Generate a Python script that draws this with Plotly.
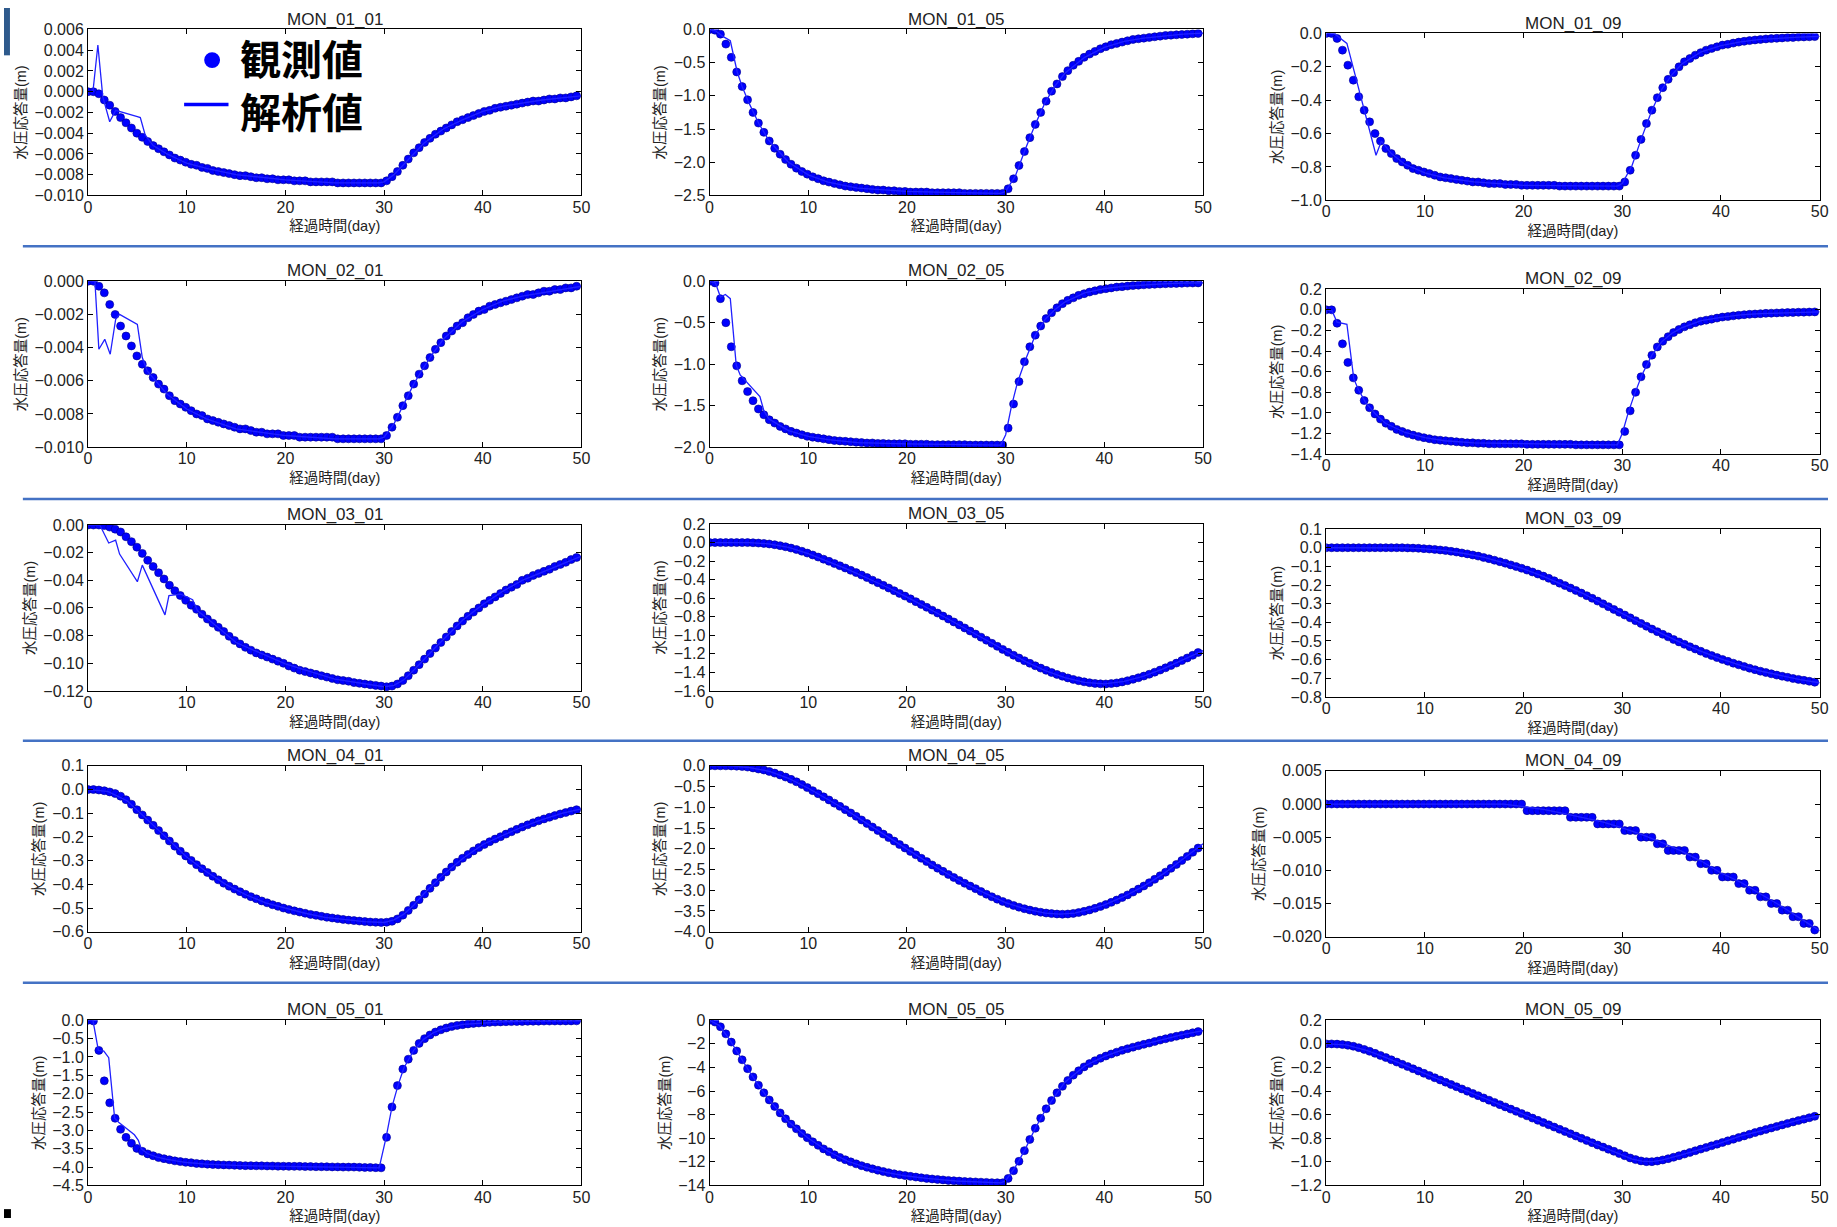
import plotly.graph_objects as go

# ---------------------------------------------------------------------------
# Observation time grid (days) shared by every monitoring well
# ---------------------------------------------------------------------------
DAYS = [0.0, 0.55, 1.1, 1.65, 2.2, 2.75, 3.3, 3.85, 4.4, 4.95,
        5.5, 6.05, 6.6, 7.15, 7.7, 8.25, 8.8, 9.35, 9.9, 10.45,
        11.0, 11.55, 12.1, 12.65, 13.2, 13.75, 14.3, 14.85, 15.4, 15.95,
        16.5, 17.05, 17.6, 18.15, 18.7, 19.25, 19.8, 20.35, 20.9, 21.45,
        22.0, 22.55, 23.1, 23.65, 24.2, 24.75, 25.3, 25.85, 26.4, 26.95,
        27.5, 28.05, 28.6, 29.15, 29.7, 30.25, 30.8, 31.35, 31.9, 32.45,
        33.0, 33.55, 34.1, 34.65, 35.2, 35.75, 36.3, 36.85, 37.4, 37.95,
        38.5, 39.05, 39.6, 40.15, 40.7, 41.25, 41.8, 42.35, 42.9, 43.45,
        44.0, 44.55, 45.1, 45.65, 46.2, 46.75, 47.3, 47.85, 48.4, 48.95,
        49.5]

STATIONS = ["MON_01_01", "MON_01_05", "MON_01_09",
            "MON_02_01", "MON_02_05", "MON_02_09",
            "MON_03_01", "MON_03_05", "MON_03_09",
            "MON_04_01", "MON_04_05", "MON_04_09",
            "MON_05_01", "MON_05_05", "MON_05_09"]

# ---------------------------------------------------------------------------
# Observed water-pressure response (m)  -- 観測値
# ---------------------------------------------------------------------------
OBS_MON_01_01 = [0.0, 0.0, -0.0002, -0.0008, -0.0013, -0.0019, -0.0025, -0.0030, -0.0035, -0.0040,
                 -0.0044, -0.0048, -0.0052, -0.0055, -0.0058, -0.0061, -0.0064, -0.0066, -0.0068, -0.0070,
                 -0.0071, -0.0073, -0.0074, -0.0076, -0.0077, -0.0078, -0.0079, -0.0080, -0.0081, -0.0081,
                 -0.0082, -0.0083, -0.0083, -0.0084, -0.0084, -0.0085, -0.0085, -0.0085, -0.0086, -0.0086,
                 -0.0086, -0.0087, -0.0087, -0.0087, -0.0087, -0.0087, -0.0088, -0.0088, -0.0088, -0.0088,
                 -0.0088, -0.0088, -0.0088, -0.0088, -0.0088, -0.0086, -0.0082, -0.0077, -0.0071, -0.0065,
                 -0.0059, -0.0054, -0.0049, -0.0045, -0.0041, -0.0038, -0.0035, -0.0032, -0.0029, -0.0027,
                 -0.0025, -0.0023, -0.0021, -0.0019, -0.0018, -0.0016, -0.0015, -0.0014, -0.0013, -0.0012,
                 -0.0011, -0.0010, -0.0009, -0.0009, -0.0008, -0.0007, -0.0007, -0.0006, -0.0006, -0.0005,
                 -0.0004]
OBS_MON_01_05 = [0.0, -0.01, -0.07, -0.22, -0.42, -0.64, -0.86, -1.06, -1.25, -1.41,
                 -1.55, -1.68, -1.79, -1.88, -1.96, -2.03, -2.09, -2.14, -2.18, -2.22,
                 -2.25, -2.28, -2.30, -2.32, -2.34, -2.36, -2.37, -2.38, -2.39, -2.40,
                 -2.41, -2.42, -2.42, -2.43, -2.43, -2.44, -2.44, -2.45, -2.45, -2.45,
                 -2.45, -2.46, -2.46, -2.46, -2.46, -2.46, -2.46, -2.47, -2.47, -2.47,
                 -2.47, -2.47, -2.47, -2.47, -2.47, -2.40, -2.25, -2.05, -1.84, -1.63,
                 -1.43, -1.25, -1.08, -0.93, -0.82, -0.71, -0.62, -0.54, -0.48, -0.42,
                 -0.37, -0.33, -0.29, -0.26, -0.23, -0.21, -0.19, -0.17, -0.15, -0.14,
                 -0.13, -0.12, -0.11, -0.10, -0.09, -0.085, -0.08, -0.075, -0.07, -0.065,
                 -0.06]
OBS_MON_01_09 = [0.0, 0.0, -0.03, -0.10, -0.19, -0.28, -0.38, -0.46, -0.53, -0.60,
                 -0.645, -0.69, -0.72, -0.75, -0.77, -0.79, -0.81, -0.82, -0.83, -0.84,
                 -0.85, -0.86, -0.865, -0.87, -0.875, -0.88, -0.885, -0.89, -0.89, -0.895,
                 -0.90, -0.90, -0.90, -0.905, -0.905, -0.905, -0.91, -0.91, -0.91, -0.91,
                 -0.91, -0.91, -0.91, -0.915, -0.915, -0.915, -0.915, -0.915, -0.915, -0.915,
                 -0.915, -0.915, -0.915, -0.915, -0.915, -0.89, -0.82, -0.73, -0.635, -0.54,
                 -0.46, -0.385, -0.325, -0.275, -0.235, -0.20, -0.17, -0.15, -0.13, -0.115,
                 -0.10, -0.09, -0.08, -0.07, -0.065, -0.058, -0.052, -0.047, -0.043, -0.039,
                 -0.036, -0.033, -0.031, -0.029, -0.027, -0.025, -0.024, -0.022, -0.021, -0.020,
                 -0.019]
OBS_MON_02_01 = [0.0, 0.0, -0.0003, -0.0007, -0.0014, -0.0020, -0.0027, -0.0033, -0.0039, -0.0045,
                 -0.0050, -0.0054, -0.0058, -0.0062, -0.0065, -0.0069, -0.0072, -0.0074, -0.0076, -0.0078,
                 -0.0080, -0.0081, -0.0083, -0.0084, -0.0085, -0.0086, -0.0087, -0.0088, -0.0089, -0.0089,
                 -0.0090, -0.0091, -0.0091, -0.0092, -0.0092, -0.0092, -0.0093, -0.0093, -0.0093, -0.0094,
                 -0.0094, -0.0094, -0.0094, -0.0094, -0.0094, -0.0094, -0.0095, -0.0095, -0.0095, -0.0095,
                 -0.0095, -0.0095, -0.0095, -0.0095, -0.0095, -0.0093, -0.0088, -0.0082, -0.0075, -0.0069,
                 -0.0062, -0.0056, -0.0051, -0.0046, -0.0041, -0.0037, -0.0033, -0.0030, -0.0027, -0.0025,
                 -0.0022, -0.0020, -0.0018, -0.0017, -0.0015, -0.0014, -0.0013, -0.0012, -0.0011, -0.0010,
                 -0.0009, -0.0008, -0.0008, -0.0007, -0.0006, -0.0006, -0.0005, -0.0005, -0.0004, -0.0004,
                 -0.0003]
OBS_MON_02_05 = [0.0, -0.02, -0.21, -0.50, -0.79, -1.02, -1.20, -1.33, -1.44, -1.54,
                 -1.61, -1.67, -1.71, -1.75, -1.78, -1.81, -1.83, -1.85, -1.87, -1.88,
                 -1.89, -1.90, -1.91, -1.92, -1.925, -1.93, -1.935, -1.94, -1.945, -1.95,
                 -1.95, -1.955, -1.955, -1.96, -1.96, -1.96, -1.96, -1.965, -1.965, -1.965,
                 -1.965, -1.97, -1.97, -1.97, -1.97, -1.97, -1.97, -1.97, -1.975, -1.975,
                 -1.975, -1.975, -1.975, -1.975, -1.975, -1.77, -1.48, -1.21, -0.97, -0.79,
                 -0.65, -0.54, -0.45, -0.38, -0.32, -0.27, -0.23, -0.20, -0.17, -0.15,
                 -0.13, -0.115, -0.10, -0.09, -0.08, -0.07, -0.065, -0.058, -0.052, -0.047,
                 -0.043, -0.039, -0.036, -0.033, -0.030, -0.028, -0.026, -0.024, -0.022, -0.021,
                 -0.020]
OBS_MON_02_09 = [0.0, 0.0, -0.13, -0.33, -0.51, -0.66, -0.78, -0.88, -0.95, -1.01,
                 -1.06, -1.10, -1.13, -1.16, -1.18, -1.20, -1.215, -1.23, -1.24, -1.25,
                 -1.26, -1.265, -1.27, -1.275, -1.28, -1.285, -1.29, -1.29, -1.295, -1.295,
                 -1.30, -1.30, -1.30, -1.30, -1.30, -1.30, -1.30, -1.305, -1.305, -1.305,
                 -1.305, -1.305, -1.305, -1.305, -1.305, -1.305, -1.31, -1.31, -1.31, -1.31,
                 -1.31, -1.31, -1.31, -1.31, -1.31, -1.18, -0.98, -0.80, -0.65, -0.53,
                 -0.44, -0.36, -0.305, -0.26, -0.22, -0.19, -0.165, -0.145, -0.125, -0.11,
                 -0.10, -0.09, -0.08, -0.07, -0.065, -0.058, -0.052, -0.047, -0.043, -0.040,
                 -0.037, -0.034, -0.032, -0.030, -0.028, -0.026, -0.025, -0.023, -0.022, -0.021,
                 -0.020]
OBS_MON_03_01 = [0.0, 0.0, 0.0, -0.0004, -0.0015, -0.003, -0.005, -0.0085, -0.012, -0.016,
                 -0.0205, -0.0255, -0.030, -0.0345, -0.039, -0.0435, -0.0475, -0.051, -0.0545, -0.058,
                 -0.061, -0.0645, -0.068, -0.071, -0.074, -0.077, -0.0805, -0.0835, -0.086, -0.0885,
                 -0.0905, -0.0925, -0.094, -0.0955, -0.097, -0.0985, -0.100, -0.102, -0.1035, -0.105,
                 -0.106, -0.107, -0.108, -0.109, -0.110, -0.111, -0.112, -0.1125, -0.113, -0.114,
                 -0.1145, -0.115, -0.1155, -0.116, -0.1165, -0.117, -0.1165, -0.115, -0.1125, -0.109,
                 -0.105, -0.101, -0.097, -0.093, -0.089, -0.085, -0.081, -0.077, -0.073, -0.0695,
                 -0.066, -0.063, -0.060, -0.057, -0.0545, -0.052, -0.0495, -0.047, -0.045, -0.043,
                 -0.040, -0.0385, -0.0365, -0.035, -0.0335, -0.032, -0.030, -0.0285, -0.027, -0.025,
                 -0.0235]
OBS_MON_03_05 = [0.0, 0.0, 0.0, 0.0, 0.0, 0.0, 0.0, 0.0, -0.002, -0.005,
                 -0.009, -0.015, -0.023, -0.033, -0.045, -0.059, -0.075, -0.093, -0.113, -0.134,
                 -0.156, -0.179, -0.202, -0.226, -0.25, -0.274, -0.299, -0.324, -0.35, -0.377,
                 -0.405, -0.433, -0.461, -0.49, -0.519, -0.548, -0.577, -0.607, -0.637, -0.667,
                 -0.698, -0.729, -0.76, -0.792, -0.824, -0.856, -0.888, -0.921, -0.954, -0.987,
                 -1.02, -1.053, -1.086, -1.119, -1.152, -1.184, -1.215, -1.245, -1.274, -1.302,
                 -1.329, -1.354, -1.378, -1.401, -1.422, -1.442, -1.46, -1.476, -1.49, -1.502,
                 -1.512, -1.519, -1.524, -1.525, -1.521, -1.514, -1.503, -1.49, -1.475, -1.458,
                 -1.44, -1.42, -1.398, -1.375, -1.351, -1.326, -1.3, -1.273, -1.245, -1.216,
                 -1.186]
OBS_MON_03_09 = [0.0, 0.0, 0.0, 0.0, 0.0, 0.0, 0.0, 0.0, 0.0, 0.0,
                 0.0, 0.0, 0.0, 0.0, 0.0, -0.001, -0.002, -0.003, -0.005, -0.007,
                 -0.009, -0.012, -0.015, -0.019, -0.023, -0.028, -0.033, -0.039, -0.045, -0.052,
                 -0.059, -0.067, -0.075, -0.083, -0.092, -0.101, -0.11, -0.12, -0.13, -0.141,
                 -0.152, -0.164, -0.177, -0.19, -0.203, -0.216, -0.229, -0.243, -0.257, -0.271,
                 -0.286, -0.301, -0.316, -0.331, -0.346, -0.361, -0.376, -0.391, -0.406, -0.421,
                 -0.436, -0.45, -0.464, -0.478, -0.492, -0.505, -0.518, -0.531, -0.543, -0.555,
                 -0.567, -0.578, -0.589, -0.599, -0.609, -0.619, -0.628, -0.637, -0.646, -0.654,
                 -0.662, -0.669, -0.676, -0.683, -0.689, -0.695, -0.701, -0.706, -0.711, -0.716,
                 -0.721]
OBS_MON_04_01 = [0.0, 0.0, -0.002, -0.005, -0.01, -0.017, -0.028, -0.043, -0.062, -0.085,
                 -0.107, -0.129, -0.151, -0.173, -0.195, -0.217, -0.239, -0.26, -0.28, -0.299,
                 -0.317, -0.334, -0.35, -0.366, -0.381, -0.395, -0.408, -0.42, -0.431, -0.442,
                 -0.452, -0.461, -0.47, -0.478, -0.486, -0.493, -0.5, -0.506, -0.512, -0.517,
                 -0.522, -0.527, -0.531, -0.535, -0.539, -0.542, -0.545, -0.548, -0.551, -0.553,
                 -0.555, -0.557, -0.559, -0.56, -0.561, -0.56, -0.556, -0.546, -0.53, -0.51,
                 -0.488, -0.465, -0.441, -0.417, -0.393, -0.37, -0.348, -0.327, -0.307, -0.29,
                 -0.274, -0.259, -0.245, -0.232, -0.22, -0.209, -0.199, -0.188, -0.178, -0.168,
                 -0.158, -0.149, -0.14, -0.132, -0.124, -0.117, -0.11, -0.103, -0.097, -0.091,
                 -0.085]
OBS_MON_04_05 = [0.0, 0.0, 0.0, 0.0, -0.002, -0.007, -0.016, -0.03, -0.05, -0.076,
                 -0.1, -0.135, -0.175, -0.22, -0.27, -0.325, -0.385, -0.452, -0.525, -0.598,
                 -0.672, -0.747, -0.822, -0.899, -0.977, -1.056, -1.136, -1.217, -1.305, -1.39,
                 -1.475, -1.56, -1.645, -1.73, -1.814, -1.898, -1.981, -2.064, -2.146, -2.228,
                 -2.309, -2.389, -2.467, -2.544, -2.619, -2.692, -2.763, -2.832, -2.898, -2.961,
                 -3.03, -3.095, -3.157, -3.215, -3.27, -3.32, -3.366, -3.408, -3.445, -3.478,
                 -3.507, -3.53, -3.549, -3.563, -3.573, -3.578, -3.572, -3.558, -3.537, -3.509,
                 -3.475, -3.436, -3.392, -3.344, -3.292, -3.236, -3.176, -3.112, -3.044, -2.972,
                 -2.897, -2.818, -2.736, -2.651, -2.563, -2.472, -2.378, -2.282, -2.184, -2.084,
                 -1.982]
OBS_MON_04_09 = [0.0, 0.0, 0.0, 0.0, 0.0, 0.0, 0.0, 0.0, 0.0, 0.0,
                 0.0, 0.0, 0.0, 0.0, 0.0, 0.0, 0.0, 0.0, 0.0, 0.0,
                 0.0, 0.0, 0.0, 0.0, 0.0, 0.0, 0.0, 0.0, 0.0, 0.0,
                 0.0, 0.0, 0.0, 0.0, 0.0, 0.0, 0.0, -0.001, -0.001, -0.001,
                 -0.001, -0.001, -0.001, -0.001, -0.001, -0.002, -0.002, -0.002, -0.002, -0.002,
                 -0.003, -0.003, -0.003, -0.003, -0.003, -0.004, -0.004, -0.004, -0.005, -0.005,
                 -0.005, -0.006, -0.006, -0.007, -0.007, -0.007, -0.007, -0.008, -0.008, -0.009,
                 -0.009, -0.010, -0.010, -0.011, -0.011, -0.011, -0.012, -0.012, -0.013, -0.013,
                 -0.014, -0.014, -0.015, -0.015, -0.016, -0.016, -0.017, -0.017, -0.018, -0.018,
                 -0.019]
OBS_MON_05_01 = [0.0, -0.02, -0.82, -1.65, -2.25, -2.67, -2.97, -3.19, -3.35, -3.49,
                 -3.57, -3.64, -3.69, -3.74, -3.77, -3.80, -3.83, -3.85, -3.87, -3.88,
                 -3.90, -3.91, -3.92, -3.93, -3.935, -3.94, -3.945, -3.95, -3.955, -3.96,
                 -3.96, -3.965, -3.965, -3.97, -3.97, -3.975, -3.975, -3.98, -3.98, -3.98,
                 -3.985, -3.985, -3.99, -3.99, -3.99, -3.995, -3.995, -4.0, -4.0, -4.0,
                 -4.005, -4.01, -4.01, -4.015, -4.02, -3.19, -2.36, -1.78, -1.33, -1.06,
                 -0.82, -0.63, -0.5, -0.4, -0.32, -0.26, -0.21, -0.17, -0.14, -0.12,
                 -0.10, -0.085, -0.075, -0.065, -0.057, -0.05, -0.045, -0.04, -0.036, -0.033,
                 -0.03, -0.028, -0.026, -0.024, -0.022, -0.021, -0.02, -0.019, -0.018, -0.017,
                 -0.016]
OBS_MON_05_05 = [0.0, -0.15, -0.55, -1.15, -1.85, -2.6, -3.35, -4.1, -4.8, -5.5,
                 -6.15, -6.75, -7.3, -7.85, -8.35, -8.8, -9.2, -9.6, -9.95, -10.3,
                 -10.6, -10.9, -11.15, -11.4, -11.62, -11.82, -12.0, -12.17, -12.32, -12.46,
                 -12.59, -12.71, -12.82, -12.92, -13.01, -13.09, -13.16, -13.23, -13.29, -13.35,
                 -13.4, -13.45, -13.49, -13.53, -13.57, -13.6, -13.63, -13.66, -13.68, -13.7,
                 -13.72, -13.74, -13.76, -13.77, -13.78, -13.4, -12.75, -11.95, -11.05, -10.1,
                 -9.15, -8.3, -7.5, -6.8, -6.15, -5.6, -5.1, -4.65, -4.28, -3.95,
                 -3.67, -3.43, -3.22, -3.03, -2.86, -2.7, -2.55, -2.41, -2.28, -2.16,
                 -2.04, -1.93, -1.8, -1.68, -1.57, -1.46, -1.36, -1.26, -1.16, -1.06,
                 -0.96]
OBS_MON_05_09 = [0.0, 0.0, -0.002, -0.006, -0.012, -0.02, -0.032, -0.047, -0.063, -0.08,
                 -0.098, -0.116, -0.135, -0.154, -0.173, -0.192, -0.211, -0.23, -0.249, -0.268,
                 -0.287, -0.306, -0.325, -0.344, -0.363, -0.382, -0.401, -0.42, -0.439, -0.458,
                 -0.477, -0.496, -0.515, -0.534, -0.553, -0.572, -0.591, -0.61, -0.629, -0.648,
                 -0.667, -0.686, -0.705, -0.724, -0.743, -0.762, -0.781, -0.8, -0.819, -0.838,
                 -0.857, -0.875, -0.893, -0.91, -0.93, -0.948, -0.967, -0.981, -0.992, -0.998,
                 -0.998, -0.993, -0.984, -0.973, -0.961, -0.948, -0.934, -0.92, -0.906, -0.892,
                 -0.878, -0.864, -0.85, -0.836, -0.822, -0.808, -0.794, -0.78, -0.766, -0.752,
                 -0.739, -0.726, -0.713, -0.7, -0.687, -0.674, -0.662, -0.65, -0.638, -0.626,
                 -0.614]

# ---------------------------------------------------------------------------
# Simulated response (m)  -- 解析値 : output times and values
# ---------------------------------------------------------------------------
ANA_T_MON_01_01 = [0, 0.5, 1.0, 1.5, 2.2, 2.8, 5.0, 5.3, 5.8, 6.6, 8, 10, 12, 15, 20, 25, 29.5, 30,
                   31, 32, 33, 34, 35, 36, 38, 40, 42, 44, 46, 48, 50]
ANA_V_MON_01_01 = [0, 0, 0.0045, -0.0005, -0.0029, -0.0018, -0.0024, -0.0025, -0.0042, -0.0052,
                   -0.006, -0.0069, -0.0074, -0.008, -0.0085, -0.0088, -0.0088, -0.0087, -0.008, -0.007,
                   -0.0059, -0.005, -0.0043, -0.0036, -0.0027, -0.0019, -0.0014, -0.0011, -0.0008,
                   -0.0006, -0.0004]
ANA_T_MON_01_05 = [0, 0.6, 1.3, 2.1, 2.8, 3.3, 4, 5, 6, 8, 10, 12, 15, 20, 25, 29.5, 30, 31, 32, 33,
                   34, 35, 36, 38, 40, 42, 44, 46, 48, 50]
ANA_V_MON_01_05 = [0, -0.02, -0.1, -0.17, -0.64, -0.86, -1.11, -1.42, -1.67, -2.0, -2.19, -2.30,
                   -2.39, -2.44, -2.46, -2.47, -2.44, -2.2, -1.8, -1.43, -1.1, -0.85, -0.66, -0.42,
                   -0.27, -0.18, -0.13, -0.095, -0.07, -0.055]
ANA_T_MON_01_09 = [0, 0.8, 2.1, 5.05, 5.6, 6.6, 8, 10, 12, 15, 20, 25, 29.5, 30, 31, 32, 33, 34, 35,
                   36, 38, 40, 42, 44, 46, 48, 50]
ANA_V_MON_01_09 = [0, 0, -0.06, -0.73, -0.645, -0.72, -0.785, -0.835, -0.865, -0.89, -0.91, -0.915,
                   -0.915, -0.9, -0.79, -0.62, -0.46, -0.335, -0.25, -0.185, -0.11, -0.073, -0.05,
                   -0.036, -0.028, -0.022, -0.018]
ANA_T_MON_02_01 = [0, 0.7, 1.1, 1.7, 2.25, 2.8, 3.2, 5.0, 5.5, 6, 8, 10, 12, 15, 20, 25, 29.5, 30,
                   31, 32, 33, 34, 35, 36, 38, 40, 42, 44, 46, 48, 50]
ANA_V_MON_02_01 = [0, 0, -0.0041, -0.0035, -0.0044, -0.0023, -0.002, -0.0026, -0.0046, -0.0054,
                   -0.0068, -0.0077, -0.0083, -0.0089, -0.0093, -0.0095, -0.0095, -0.0094, -0.0086,
                   -0.0074, -0.0062, -0.0052, -0.0043, -0.0035, -0.0024, -0.0017, -0.0012, -0.0009,
                   -0.0007, -0.0005, -0.0003]
ANA_T_MON_02_05 = [0, 0.6, 1.1, 1.6, 2.1, 2.7, 3.1, 4.7, 5.1, 5.5, 6, 8, 10, 12, 15, 20, 25, 29.5,
                   30, 30.6, 31.2, 32, 33, 34, 35, 36, 38, 40, 42, 44, 46, 48, 50]
ANA_V_MON_02_05 = [0, -0.02, -0.19, -0.16, -0.21, -1.01, -1.13, -1.33, -1.39, -1.56, -1.66, -1.8,
                   -1.87, -1.91, -1.945, -1.96, -1.97, -1.975, -1.85, -1.5, -1.22, -0.95, -0.65,
                   -0.46, -0.34, -0.25, -0.14, -0.09, -0.06, -0.043, -0.031, -0.023, -0.019]
ANA_T_MON_02_09 = [0, 0.6, 1.1, 2.1, 2.8, 3.3, 4, 5, 6, 8, 10, 12, 15, 20, 25, 29.5, 30, 30.6, 31.2,
                   32, 33, 34, 35, 36, 38, 40, 42, 44, 46, 48, 50]
ANA_V_MON_02_09 = [0, -0.01, -0.12, -0.14, -0.67, -0.78, -0.9, -1.01, -1.1, -1.19, -1.24, -1.27,
                   -1.29, -1.3, -1.305, -1.31, -1.2, -1.0, -0.83, -0.63, -0.44, -0.31, -0.23, -0.175,
                   -0.105, -0.072, -0.049, -0.037, -0.029, -0.023, -0.019]
ANA_T_MON_03_01 = [0, 1.2, 2.1, 2.8, 3.2, 5.0, 5.5, 7.8, 8.2, 9.4, 10.6, 11.1, 12, 15, 20, 25, 30,
                   31, 32, 33, 35, 38, 40, 42, 44, 46, 48, 50]
ANA_V_MON_03_01 = [0, 0, -0.013, -0.011, -0.021, -0.041, -0.029, -0.065, -0.051, -0.050, -0.054,
                   -0.062, -0.067, -0.085, -0.1005, -0.1115, -0.117, -0.116, -0.112, -0.105, -0.090,
                   -0.0685, -0.0575, -0.048, -0.040, -0.034, -0.0285, -0.0225]
ANA_T_MON_03_05 = [0, 4, 6, 8, 10, 12, 14, 16, 18, 20, 22, 24, 26, 28, 30, 32, 34, 36, 38, 40, 42,
                   44, 46, 48, 50]
ANA_V_MON_03_05 = [0, -0.001, -0.014, -0.052, -0.118, -0.2, -0.29, -0.385, -0.482, -0.588, -0.698,
                   -0.813, -0.932, -1.051, -1.17, -1.283, -1.382, -1.456, -1.507, -1.525, -1.498,
                   -1.44, -1.36, -1.265, -1.165]
ANA_T_MON_03_09 = [0, 6, 8, 10, 12, 14, 16, 18, 20, 22, 24, 26, 28, 30, 32, 34, 36, 38, 40, 42, 44,
                   46, 48, 50]
ANA_V_MON_03_09 = [0, 0, -0.001, -0.006, -0.015, -0.031, -0.052, -0.081, -0.114, -0.154, -0.199,
                   -0.245, -0.299, -0.354, -0.408, -0.461, -0.51, -0.556, -0.596, -0.631, -0.661,
                   -0.686, -0.707, -0.724]
ANA_T_MON_04_01 = [0, 2, 4, 6, 8, 10, 12, 14, 16, 18, 20, 22, 24, 26, 28, 30, 31, 32, 33, 34, 35,
                   36, 38, 40, 42, 44, 46, 48, 50]
ANA_V_MON_04_01 = [0, -0.008, -0.048, -0.125, -0.205, -0.285, -0.347, -0.401, -0.444, -0.478,
                   -0.501, -0.522, -0.539, -0.549, -0.557, -0.561, -0.55, -0.526, -0.488, -0.441,
                   -0.40, -0.359, -0.29, -0.232, -0.194, -0.158, -0.127, -0.101, -0.082]
ANA_T_MON_04_05 = [0, 2, 4, 6, 8, 10, 12, 14, 16, 18, 20, 22, 24, 26, 28, 30, 32, 34, 35.5, 37, 38,
                   40, 42, 44, 46, 48, 50]
ANA_V_MON_04_05 = [0, -0.001, -0.04, -0.13, -0.3, -0.54, -0.81, -1.09, -1.40, -1.71, -2.01, -2.31,
                   -2.59, -2.85, -3.08, -3.30, -3.45, -3.55, -3.578, -3.55, -3.49, -3.35, -3.15,
                   -2.9, -2.6, -2.23, -1.88]
ANA_T_MON_04_09 = [0, 10, 18, 20, 22, 24, 26, 28, 30, 32, 34, 36, 38, 40, 42, 44, 46, 48, 50]
ANA_V_MON_04_09 = [0, 0, 0, -0.0004, -0.0008, -0.0014, -0.0020, -0.0027, -0.0036, -0.0046, -0.0058,
                   -0.0071, -0.0086, -0.0104, -0.0118, -0.0135, -0.0153, -0.0172, -0.0191]
ANA_T_MON_05_01 = [0, 0.5, 1.05, 1.6, 2.1, 2.7, 3.1, 4.7, 5.1, 5.4, 6, 7, 8, 10, 12, 15, 20, 25,
                   29.5, 30.2, 30.8, 31.4, 32, 33, 34, 35, 36, 38, 40, 42, 44, 46, 48, 50]
ANA_V_MON_05_01 = [0, 0, -0.82, -0.84, -1.02, -2.67, -2.78, -3.12, -3.27, -3.5, -3.63, -3.73, -3.79,
                   -3.875, -3.92, -3.955, -3.98, -4.0, -4.02, -3.2, -2.36, -1.78, -1.3, -0.82, -0.52,
                   -0.34, -0.23, -0.11, -0.067, -0.043, -0.03, -0.023, -0.018, -0.015]
ANA_T_MON_05_05 = [0, 1, 2, 3, 4, 5, 6, 7, 8, 10, 12, 14, 16, 18, 20, 22, 25, 29.5, 30, 31, 32, 33,
                   34, 35, 36, 38, 40, 42, 44, 46, 48, 50]
ANA_V_MON_05_05 = [0, -0.45, -1.6, -3.0, -4.3, -5.55, -6.7, -7.7, -8.6, -10.0, -11.1, -11.95,
                   -12.5, -12.92, -13.2, -13.4, -13.62, -13.78, -13.6, -12.4, -10.9, -9.15, -7.65,
                   -6.4, -5.25, -3.87, -3.06, -2.47, -2.04, -1.61, -1.2, -0.87]
ANA_T_MON_05_09 = [0, 2, 4, 6, 8, 10, 15, 20, 25, 28, 30, 31, 32, 33, 34, 35, 36, 38, 40, 42, 44,
                   46, 48, 50]
ANA_V_MON_05_09 = [0, -0.009, -0.052, -0.114, -0.183, -0.251, -0.425, -0.598, -0.77, -0.873, -0.94,
                   -0.976, -0.993, -0.998, -0.986, -0.965, -0.94, -0.893, -0.84, -0.78, -0.739,
                   -0.69, -0.641, -0.608]

X_TICKS = [0, 10, 20, 30, 40, 50]
LEGEND_LABELS = ["観測値", "解析値"]

# ---------------------------------------------------------------------------
# Page geometry (pixels from the top-left corner of the figure)
# ---------------------------------------------------------------------------
W, H = 1837, 1227


def px(x):
    return x / W


def py(y):
    return 1 - y / H


COL_X = [(84.6, 581.6), (710.6, 1207.6), (1331.6, 1828.6)]

# panel boxes: left, right, top, bottom
PANEL_BOX = {
    "MON_01_01": COL_X[0] + (21.8, 190.0), "MON_01_05": COL_X[1] + (21.8, 190.0),
    "MON_01_09": COL_X[2] + (25.8, 195.0),
    "MON_02_01": COL_X[0] + (277.1, 445.3), "MON_02_05": COL_X[1] + (277.1, 445.3),
    "MON_02_09": COL_X[2] + (285.2, 452.4),
    "MON_03_01": COL_X[0] + (524.3, 692.5), "MON_03_05": COL_X[1] + (523.3, 692.5),
    "MON_03_09": COL_X[2] + (528.4, 698.6),
    "MON_04_01": COL_X[0] + (768.5, 936.7), "MON_04_05": COL_X[1] + (768.5, 936.7),
    "MON_04_09": COL_X[2] + (773.6, 941.7),
    "MON_05_01": COL_X[0] + (1026.5, 1194.0), "MON_05_05": COL_X[1] + (1026.5, 1194.0),
    "MON_05_09": COL_X[2] + (1026.5, 1194.0),
}

# y-axis: (min, max, tick step, tick format)
Y_SCALE = {
    "MON_01_01": (-0.010, 0.006, 0.002, ".3f"), "MON_01_05": (-2.5, 0.0, 0.5, ".1f"),
    "MON_01_09": (-1.0, 0.0, 0.2, ".1f"),
    "MON_02_01": (-0.010, 0.0, 0.002, ".3f"), "MON_02_05": (-2.0, 0.0, 0.5, ".1f"),
    "MON_02_09": (-1.4, 0.2, 0.2, ".1f"),
    "MON_03_01": (-0.12, 0.0, 0.02, ".2f"), "MON_03_05": (-1.6, 0.2, 0.2, ".1f"),
    "MON_03_09": (-0.8, 0.1, 0.1, ".1f"),
    "MON_04_01": (-0.6, 0.1, 0.1, ".1f"), "MON_04_05": (-4.0, 0.0, 0.5, ".1f"),
    "MON_04_09": (-0.020, 0.005, 0.005, ".3f"),
    "MON_05_01": (-4.5, 0.0, 0.5, ".1f"), "MON_05_05": (-14, 0, 2, "d"),
    "MON_05_09": (-1.2, 0.2, 0.2, ".1f"),
}

g = globals()
BLUE = "#0000ff"
FONT = "Liberation Sans, Arial, Noto Sans CJK JP, sans-serif"
TEXT = "#222222"

fig = go.Figure()
annotations = []

for k, name in enumerate(STATIONS, start=1):
    sx = "" if k == 1 else str(k)
    xa, ya = "x" + sx, "y" + sx
    obs = g["OBS_" + name]
    ana_t = g["ANA_T_" + name]
    ana_v = g["ANA_V_" + name]

    fig.add_trace(go.Scatter(
        x=DAYS, y=obs, mode="markers", xaxis=xa, yaxis=ya, showlegend=False,
        marker=dict(size=8, color=BLUE, line=dict(width=0.6, color="#00008c")),
        name=LEGEND_LABELS[0]))
    fig.add_trace(go.Scatter(
        x=ana_t, y=ana_v, mode="lines", xaxis=xa, yaxis=ya, showlegend=False,
        line=dict(color="#2020ff", width=1.3), name=LEGEND_LABELS[1]))

    left, right, top, bottom = PANEL_BOX[name]
    lo, hi, step, fmt = Y_SCALE[name]
    n = int(round((hi - lo) / step))
    yticks = [round(lo + i * step, 6) for i in range(n + 1)]

    common = dict(showline=True, linecolor="black", linewidth=1, mirror="ticks",
                  ticks="inside", ticklen=5, tickwidth=1, tickcolor="black",
                  showgrid=False, zeroline=False,
                  tickfont=dict(family=FONT, size=16, color=TEXT))
    fig.layout["xaxis" + sx] = dict(
        domain=[px(left), px(right)], anchor=ya, range=[0, 50],
        tickmode="array", tickvals=X_TICKS, tickformat="d", ticklabelstandoff=-3,
        title=dict(text="経過時間(day)", font=dict(family=FONT, size=14.5, color=TEXT),
                   standoff=6),
        **common)
    fig.layout["yaxis" + sx] = dict(
        domain=[py(bottom), py(top)], anchor=xa, range=[lo, hi],
        tickmode="array", tickvals=yticks, tickformat=fmt,
        title=dict(text="水圧応答量(m)", font=dict(family=FONT, size=14.5, color=TEXT),
                   standoff=4),
        **common)

    annotations.append(dict(
        text=name, xref="paper", yref="paper",
        x=px((left + right) / 2), y=py(top - 10.5),
        xanchor="center", yanchor="middle", showarrow=False,
        font=dict(family=FONT, size=17, color=TEXT)))

# legend block drawn over the first panel (two lines in one text block)
LEGEND_FONT = dict(family="Noto Sans CJK JP", size=41, color="black", weight="bold")
annotations.append(dict(text="<br>".join(LEGEND_LABELS), xref="paper", yref="paper",
                        x=px(237), y=py(76.1), xanchor="left", yanchor="middle",
                        align="left", borderpad=0, showarrow=False, font=LEGEND_FONT))

shapes = [
    dict(type="circle", xref="paper", yref="paper",
         x0=px(201.6), x1=px(217.6), y0=py(60.8), y1=py(44.8),
         fillcolor=BLUE, line=dict(width=0)),
    dict(type="line", xref="paper", yref="paper",
         x0=px(181.4), x1=px(226.1), y0=py(97.9), y1=py(97.9),
         line=dict(color=BLUE, width=3.5)),
]
# slide separators between the rows of panels
for ysep in [241.6, 497.9, 743.1, 988.4]:
    shapes.append(dict(type="line", xref="paper", yref="paper",
                       x0=px(19), x1=1, y0=py(ysep), y1=py(ysep),
                       line=dict(color="#4472c4", width=2.5)))
# slide frame accents: blue tab at the top-left, small black mark at the bottom-left
shapes.append(dict(type="rect", xref="paper", yref="paper", x0=0, x1=px(6),
                   y0=py(48), y1=1, fillcolor="#2e5a8c", line=dict(width=0)))
shapes.append(dict(type="rect", xref="paper", yref="paper", x0=0, x1=px(7),
                   y0=0, y1=9 / H, fillcolor="#000000", line=dict(width=0)))

fig.update_layout(
    width=W, height=H, margin=dict(l=0, r=0, t=0, b=0),
    paper_bgcolor="white", plot_bgcolor="white",
    annotations=annotations, shapes=shapes, showlegend=False,
)

fig.write_html("out.html")
